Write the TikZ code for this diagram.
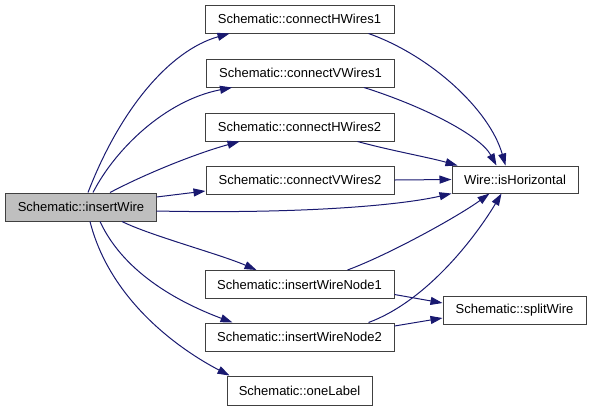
\documentclass[tikz,border=0pt]{standalone}
\usepackage{fontspec}
\setmainfont{Liberation Sans}
\usepackage{tikz}
\usetikzlibrary{arrows.meta, positioning}
\definecolor{edgeblue}{HTML}{191970}
\definecolor{boxgray}{HTML}{BFBFBF}

\tikzset{
  fnbox/.style={draw=black!75, line width=1bp, inner sep=0pt, minimum height=28bp,
    font=\fontsize{13bp}{15bp}\selectfont},
  callee/.style={edgeblue, line width=1bp, -{Triangle[length=12bp, width=8bp]}}
}

\begin{document}
\begin{tikzpicture}[x=1bp, y=-1bp]
\useasboundingbox (0,0) rectangle (592,411);
% Caller
\node[fnbox, fill=boxgray, minimum width=150bp] (insertwire) at (81,207) {Schematic::insertWire};
% Called functions
\node[fnbox, minimum width=189bp] (hwires1) at (299.5,19) {Schematic::connectHWires1};
\node[fnbox, minimum width=188bp] (vwires1) at (300.5,73) {Schematic::connectVWires1};
\node[fnbox, minimum width=189bp] (hwires2) at (299.5,127) {Schematic::connectHWires2};
\node[fnbox, minimum width=188bp] (vwires2) at (300,180) {Schematic::connectVWires2};
\node[fnbox, minimum width=189bp] (node1) at (299.5,284.5) {Schematic::insertWireNode1};
\node[fnbox, minimum width=189bp] (node2) at (299.5,337) {Schematic::insertWireNode2};
\node[fnbox, minimum width=145bp, minimum height=29bp] (onelabel) at (299.5,390.5) {Schematic::oneLabel};
\node[fnbox, minimum width=126bp, minimum height=27bp] (ishoriz) at (515,179.5) {Wire::isHorizontal};
\node[fnbox, minimum width=143bp] (splitwire) at (514.5,310) {Schematic::splitWire};
% Calls from insertWire
\draw[callee] ([xshift=7bp]insertwire.north) .. controls +(32,-83) and +(-60,17) .. ([xshift=25bp]hwires1.south west);
\draw[callee] ([xshift=12bp]insertwire.north) .. controls +(22,-43) and +(-67,13) .. ([xshift=26bp]vwires1.south west);
\draw[callee] ([xshift=29bp]insertwire.north) .. controls +(40,-21) and +(-40,11) .. ([xshift=35bp]hwires2.south west);
\draw[callee] ([yshift=10bp]insertwire.east) -- ([yshift=-11bp]vwires2.west);
\draw[callee] ([yshift=-4bp]insertwire.east) .. controls +(144,3) and +(-52,12) .. (ishoriz.south west);
\draw[callee] ([xshift=41bp]insertwire.south) .. controls +(28,14) and +(-37,-16) .. ([xshift=52bp]node1.north west);
\draw[callee] ([xshift=19bp]insertwire.south) .. controls +(25,54) and +(-48,-18) .. ([xshift=28bp]node2.north west);
\draw[callee] ([xshift=9bp]insertwire.south) .. controls +(20,79) and +(-50,-26) .. ([xshift=3bp]onelabel.north west);
% Calls to isHorizontal
\draw[callee] ([xshift=-26bp]hwires1.south east) .. controls +(62,22) and +(-16,-56) .. ([xshift=54bp]ishoriz.north west);
\draw[callee] ([xshift=-31bp]vwires1.south east) .. controls +(57,18) and +(-17,-31) .. ([xshift=45bp]ishoriz.north west);
\draw[callee] ([xshift=-37bp]hwires2.south east) .. controls +(33,9) and +(-28,-8) .. ([xshift=6bp]ishoriz.north west);
\draw[callee] (vwires2.east) -- (ishoriz.west);
\draw[callee] ([xshift=-47bp]node1.north east) .. controls +(43,-16) and +(-30,22) .. ([xshift=38bp]ishoriz.south west);
\draw[callee] ([xshift=-26bp]node2.north east) .. controls +(62,-23) and +(-22,37) .. ([xshift=50bp]ishoriz.south west);
% Calls to splitWire
\draw[callee] ([yshift=-10bp]node1.east) -- ([yshift=7bp]splitwire.west);
\draw[callee] ([yshift=11bp]node2.east) -- ([yshift=-8bp]splitwire.west);
\end{tikzpicture}
\end{document}
